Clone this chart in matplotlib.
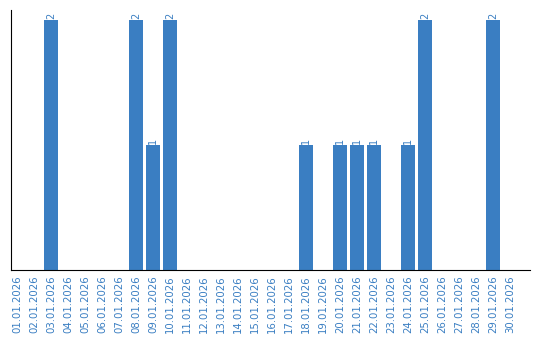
import matplotlib
matplotlib.use('Agg')
import matplotlib.pyplot as plt

# daily counts for January 2026
dates = ['%02d.01.2026' % d for d in range(1, 31)]
counts = [0, 0, 2, 0, 0, 0, 0, 2, 1, 2,
          0, 0, 0, 0, 0, 0, 0, 1, 0, 1,
          1, 1, 0, 1, 2, 0, 0, 0, 2, 0]

blue = '#3a7ec2'

fig = plt.figure(figsize=(5.4, 3.4), dpi=100)
ax = fig.add_axes([11/540, 70/340, 519/540, 260/340])

x = list(range(len(dates)))
bars = ax.bar(x, counts, width=0.82, color=blue)

# value labels above bars (skip zeros)
for xi, c in zip(x, counts):
    if c > 0:
        ax.text(xi, c + 0.01, str(c), rotation=90, ha='center', va='bottom',
                color=blue, fontsize=7)

ax.set_xlim(-0.353, 30.18)
ax.set_ylim(0, 2.08)
ax.set_xticks(x)
ax.set_xticklabels(dates, rotation=90, color=blue, fontsize=7.3)
ax.tick_params(axis='x', length=0, pad=4)
ax.set_yticks([])
ax.spines['top'].set_visible(False)
ax.spines['right'].set_visible(False)

fig.savefig('out.png', dpi=100)
